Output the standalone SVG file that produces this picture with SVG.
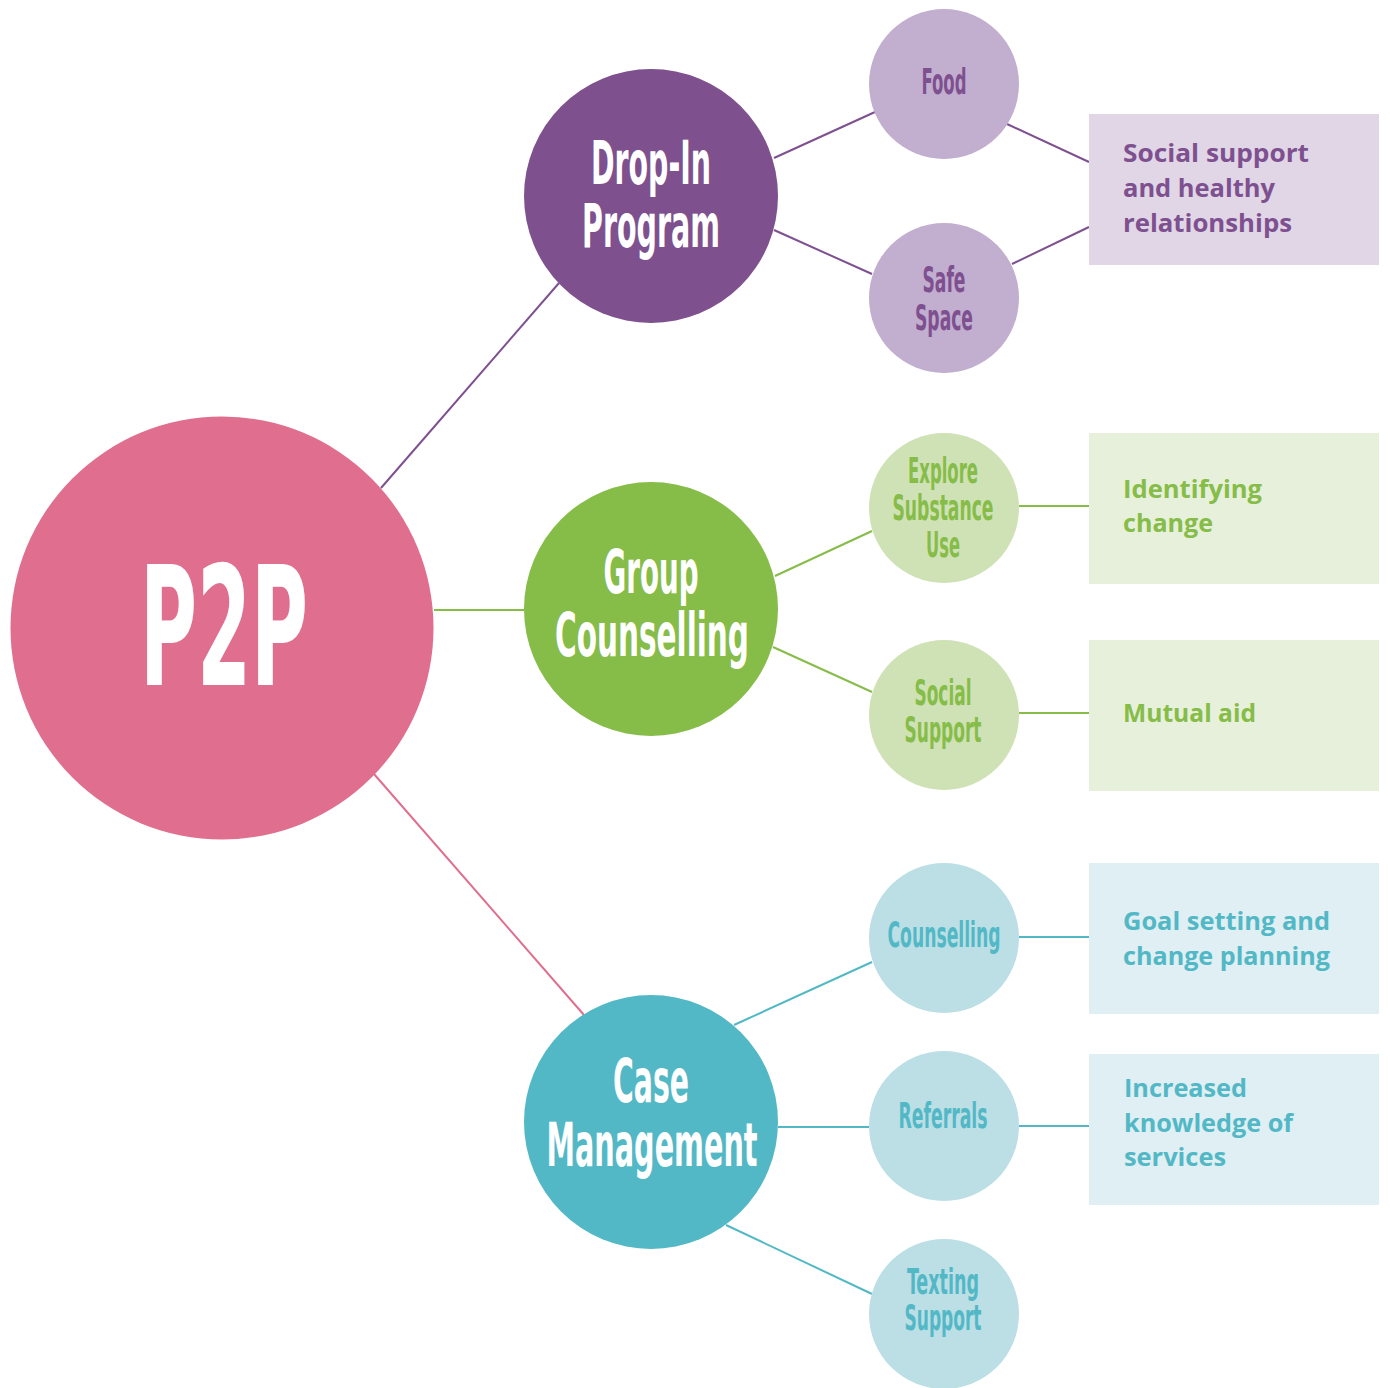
<svg xmlns="http://www.w3.org/2000/svg" width="1390" height="1388" viewBox="0 0 1390 1388">
  <style>
    .cond { font-family: "Liberation Sans Narrow", "DejaVu Sans Condensed", "Roboto", sans-serif; font-weight: bold; text-anchor: middle; }
    .body { font-family: "Open Sans", "Lato", "Liberation Sans", sans-serif; font-weight: bold; font-size: 25px; }
    .white { fill: #ffffff; }
    .link { fill: none; stroke-width: 2; }
    .purple-l { stroke: #7E5090; }
    .green-l { stroke: #86BC48; }
    .teal-l { stroke: #52B8C6; }
    .pink-l { stroke: #E06E8E; }
    .purple-t { fill: #7E5090; }
    .green-t { fill: #86BC48; }
    .teal-t { fill: #52B8C6; }
  </style>

  <rect width="1390" height="1388" fill="#ffffff"/>

  <!-- connectors -->
  <g id="connectors">
    <line class="link purple-l" x1="381" y1="488" x2="559" y2="283"/>
    <line class="link green-l" x1="434" y1="610" x2="524" y2="610"/>
    <line class="link pink-l" x1="374" y1="774" x2="584" y2="1015"/>

    <line class="link purple-l" x1="774" y1="158" x2="875" y2="112"/>
    <line class="link purple-l" x1="774" y1="230" x2="872" y2="274"/>
    <line class="link purple-l" x1="1007" y1="124" x2="1089" y2="162"/>
    <line class="link purple-l" x1="1012" y1="264" x2="1089" y2="227"/>

    <line class="link green-l" x1="775" y1="576" x2="872" y2="531"/>
    <line class="link green-l" x1="773" y1="647" x2="872" y2="692"/>
    <line class="link green-l" x1="1019" y1="506" x2="1089" y2="506"/>
    <line class="link green-l" x1="1019" y1="713" x2="1089" y2="713"/>

    <line class="link teal-l" x1="734" y1="1025" x2="872" y2="962"/>
    <line class="link teal-l" x1="778" y1="1127" x2="869" y2="1127"/>
    <line class="link teal-l" x1="726" y1="1225" x2="872" y2="1294"/>
    <line class="link teal-l" x1="1019" y1="937" x2="1089" y2="937"/>
    <line class="link teal-l" x1="1019" y1="1126" x2="1089" y2="1126"/>
  </g>

  <!-- root -->
  <g id="p2p">
    <circle cx="222" cy="628" r="211.5" fill="#E06E8E"/>
    <text class="cond white" x="224" y="685" font-size="166" textLength="168" lengthAdjust="spacingAndGlyphs">P2P</text>
  </g>

  <!-- programs -->
  <g id="drop-in">
    <circle cx="651" cy="196" r="127" fill="#7E508E"/>
    <text class="cond white" x="651" y="184" font-size="60" textLength="120" lengthAdjust="spacingAndGlyphs">Drop-In</text>
    <text class="cond white" x="651" y="247" font-size="60" textLength="138" lengthAdjust="spacingAndGlyphs">Program</text>
  </g>
  <g id="group-counselling">
    <circle cx="651" cy="609" r="127" fill="#86BC48"/>
    <text class="cond white" x="651" y="593" font-size="60" textLength="95" lengthAdjust="spacingAndGlyphs">Group</text>
    <text class="cond white" x="652" y="656" font-size="60" textLength="194" lengthAdjust="spacingAndGlyphs">Counselling</text>
  </g>
  <g id="case-management">
    <circle cx="651" cy="1122" r="127" fill="#52B8C6"/>
    <text class="cond white" x="651" y="1102" font-size="60" textLength="76" lengthAdjust="spacingAndGlyphs">Case</text>
    <text class="cond white" x="652" y="1166" font-size="60" textLength="211" lengthAdjust="spacingAndGlyphs">Management</text>
  </g>

  <!-- activities -->
  <g id="food">
    <circle cx="944" cy="84" r="75" fill="#C2AECE"/>
    <text class="cond purple-t" x="944" y="94" font-size="35" textLength="45" lengthAdjust="spacingAndGlyphs">Food</text>
  </g>
  <g id="safe-space">
    <circle cx="944" cy="298" r="75" fill="#C2AECE"/>
    <text class="cond purple-t" x="944" y="292" font-size="35" textLength="43" lengthAdjust="spacingAndGlyphs">Safe</text>
    <text class="cond purple-t" x="944" y="330" font-size="35" textLength="58" lengthAdjust="spacingAndGlyphs">Space</text>
  </g>
  <g id="explore-substance-use">
    <circle cx="944" cy="508" r="75" fill="#CFE2B5"/>
    <text class="cond green-t" x="943" y="483" font-size="35" textLength="70" lengthAdjust="spacingAndGlyphs">Explore</text>
    <text class="cond green-t" x="943" y="520" font-size="35" textLength="101" lengthAdjust="spacingAndGlyphs">Substance</text>
    <text class="cond green-t" x="943" y="557" font-size="35" textLength="34" lengthAdjust="spacingAndGlyphs">Use</text>
  </g>
  <g id="social-support">
    <circle cx="944" cy="715" r="75" fill="#CFE2B5"/>
    <text class="cond green-t" x="943" y="705" font-size="35" textLength="57" lengthAdjust="spacingAndGlyphs">Social</text>
    <text class="cond green-t" x="943" y="742" font-size="35" textLength="77" lengthAdjust="spacingAndGlyphs">Support</text>
  </g>
  <g id="counselling">
    <circle cx="944" cy="938" r="75" fill="#BCDFE6"/>
    <text class="cond teal-t" x="944" y="947" font-size="35" textLength="113" lengthAdjust="spacingAndGlyphs">Counselling</text>
  </g>
  <g id="referrals">
    <circle cx="944" cy="1126" r="75" fill="#BCDFE6"/>
    <text class="cond teal-t" x="943" y="1128" font-size="35" textLength="89" lengthAdjust="spacingAndGlyphs">Referrals</text>
  </g>
  <g id="texting-support">
    <circle cx="944" cy="1314" r="75" fill="#BCDFE6"/>
    <text class="cond teal-t" x="943" y="1294" font-size="35" textLength="72" lengthAdjust="spacingAndGlyphs">Texting</text>
    <text class="cond teal-t" x="943" y="1330" font-size="35" textLength="77" lengthAdjust="spacingAndGlyphs">Support</text>
  </g>

  <!-- outcomes -->
  <g id="outcome-social">
    <rect x="1089" y="114" width="290" height="151" fill="#E0D6E6"/>
    <text class="body purple-t" x="1123" y="162" textLength="186" lengthAdjust="spacingAndGlyphs">Social support</text>
    <text class="body purple-t" x="1123" y="197" textLength="152" lengthAdjust="spacingAndGlyphs">and healthy</text>
    <text class="body purple-t" x="1123" y="232" textLength="169" lengthAdjust="spacingAndGlyphs">relationships</text>
  </g>
  <g id="outcome-identifying">
    <rect x="1089" y="433" width="290" height="151" fill="#E7F0DA"/>
    <text class="body green-t" x="1123" y="498" textLength="139" lengthAdjust="spacingAndGlyphs">Identifying</text>
    <text class="body green-t" x="1123" y="532" textLength="90" lengthAdjust="spacingAndGlyphs">change</text>
  </g>
  <g id="outcome-mutual">
    <rect x="1089" y="640" width="290" height="151" fill="#E7F0DA"/>
    <text class="body green-t" x="1123" y="722" textLength="133" lengthAdjust="spacingAndGlyphs">Mutual aid</text>
  </g>
  <g id="outcome-goal">
    <rect x="1089" y="863" width="290" height="151" fill="#DFEFF3"/>
    <text class="body teal-t" x="1123" y="930" textLength="207" lengthAdjust="spacingAndGlyphs">Goal setting and</text>
    <text class="body teal-t" x="1123" y="965" textLength="207" lengthAdjust="spacingAndGlyphs">change planning</text>
  </g>
  <g id="outcome-knowledge">
    <rect x="1089" y="1054" width="290" height="151" fill="#DFEFF3"/>
    <text class="body teal-t" x="1124" y="1097" textLength="123" lengthAdjust="spacingAndGlyphs">Increased</text>
    <text class="body teal-t" x="1124" y="1132" textLength="169" lengthAdjust="spacingAndGlyphs">knowledge of</text>
    <text class="body teal-t" x="1124" y="1166" textLength="102" lengthAdjust="spacingAndGlyphs">services</text>
  </g>
</svg>
